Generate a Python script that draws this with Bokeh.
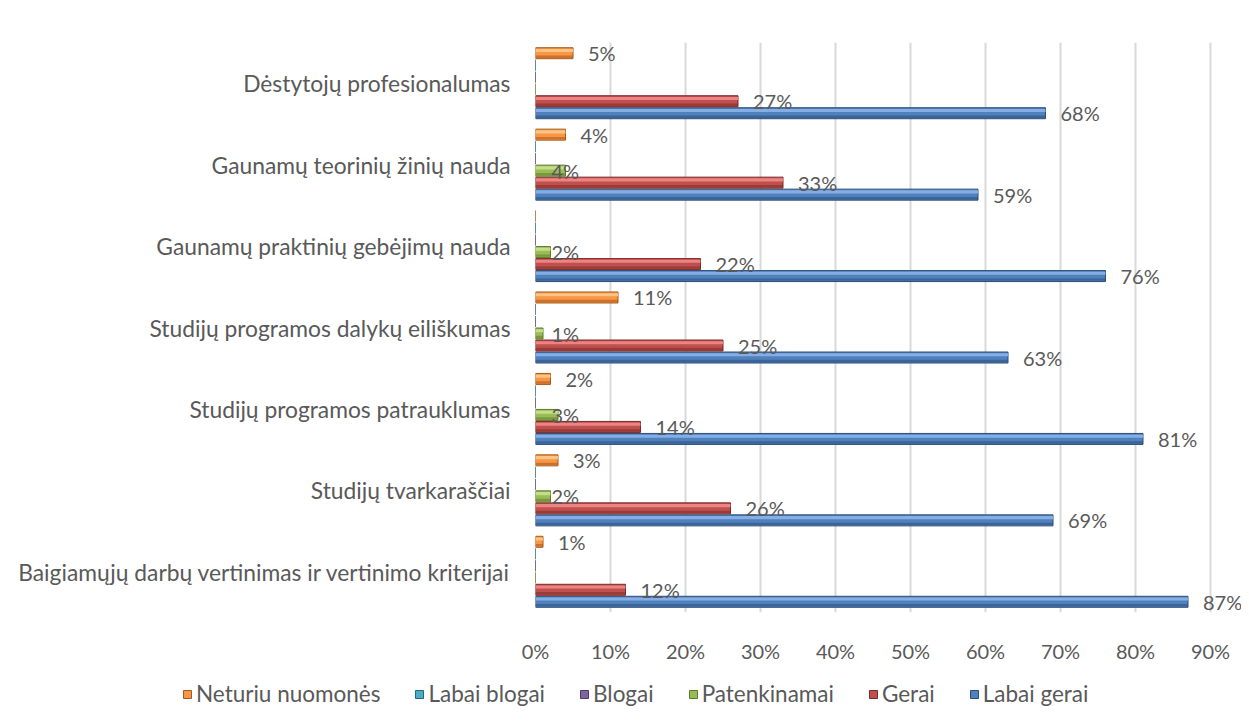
from bokeh.plotting import figure
from bokeh.layouts import column
from bokeh.models import (FactorRange, Range1d, ColumnDataSource, Legend, LegendItem,
                          FixedTicker, PrintfTickFormatter)
from bokeh.transform import dodge
from bokeh.core.properties import value
from bokeh.embed import file_html
from bokeh.resources import INLINE

# ---- data (categories listed top to bottom as in the picture) ----
categories = [
    "Dėstytojų profesionalumas",
    "Gaunamų teorinių žinių nauda",
    "Gaunamų praktinių gebėjimų nauda",
    "Studijų programos dalykų eiliškumas",
    "Studijų programos patrauklumas",
    "Studijų tvarkaraščiai",
    "Baigiamųjų darbų vertinimas ir vertinimo kriterijai",
]
labai_gerai = [68, 59, 76, 63, 81, 69, 87]
gerai = [27, 33, 22, 25, 14, 26, 12]
patenkinamai = [0, 4, 2, 1, 3, 2, 0]
blogai = [0, 0, 0, 0, 0, 0, 0]
labai_blogai = [0, 0, 0, 0, 0, 0, 0]
neturiu = [5, 4, 0, 11, 2, 3, 1]
series_names = ["Labai gerai", "Gerai", "Patenkinamai", "Blogai", "Labai blogai", "Neturiu nuomonės"]
x_ticks = [0, 10, 20, 30, 40, 50, 60, 70, 80, 90]

series_values = [labai_gerai, gerai, patenkinamai, blogai, labai_blogai, neturiu]
colors = [
    ("#4f81bd", "#8db3e8", "#2c4d7a"),
    ("#c0504d", "#ef8a88", "#7a2a28"),
    ("#9bbb59", "#c8e28e", "#5c7a26"),
    ("#8064a2", "#b29bd0", "#4d3a66"),
    ("#4bacc6", "#8fd6ea", "#23697d"),
    ("#f79646", "#fcc88a", "#a8581a"),
]

FONT = "Lato"
TXT = "#595959"

factors = list(reversed(categories))

W, H = 1241, 665
LEFT, TOP, BOTTOM = 535, 42, 53
px_per_unit = 7.5
x_end = (W - LEFT) / px_per_unit

p = figure(width=W, height=H, output_backend="svg", toolbar_location=None,
           y_range=FactorRange(*factors, range_padding=0), x_range=Range1d(0, x_end),
           min_border_left=LEFT, min_border_right=0, min_border_top=TOP, min_border_bottom=BOTTOM)
p.outline_line_color = None
p.background_fill_color = "white"
p.border_fill_color = "white"

step = 0.1474
bar_h = 0.135
for k, (name, vals, (mid, light, dark)) in enumerate(zip(series_names, series_values, colors)):
    off = -(2.5 - k) * step
    src = ColumnDataSource(dict(cat=categories, v=vals,
                                lab=[f"{v}%" if v > 0 else "" for v in vals]))
    yb = dodge("cat", off, range=p.y_range)
    p.hbar(y=yb, right="v", left=0, height=bar_h, source=src,
           fill_color=mid, line_color=dark, line_width=1)
    p.hbar(y=dodge("cat", off + bar_h * 0.25, range=p.y_range), right="v", left=0,
           height=bar_h * 0.28, source=src, fill_color=light, line_color=None, fill_alpha=0.9)
    p.hbar(y=dodge("cat", off - bar_h * 0.32, range=p.y_range), right="v", left=0,
           height=bar_h * 0.22, source=src, fill_color=dark, line_color=None, fill_alpha=0.55)
    xs = 0 if name == "Patenkinamai" else "v"
    xo = 16 if name == "Patenkinamai" else 15
    p.text(x=xs, y=yb, text="lab", source=src, x_offset=xo, text_baseline="middle",
           text_align="left", text_font=value(FONT), text_font_size="20px", text_color=TXT)

p.xaxis.ticker = FixedTicker(ticks=x_ticks)
p.xaxis.formatter = PrintfTickFormatter(format="%d%%")
p.xaxis.axis_line_color = None
p.xaxis.major_tick_line_color = None
p.xaxis.minor_tick_line_color = None
p.xaxis.major_label_standoff = 20
p.xaxis.major_label_text_font = FONT
p.xaxis.major_label_text_font_size = "20px"
p.xaxis.major_label_text_color = TXT

p.yaxis.axis_line_color = None
p.yaxis.major_tick_line_color = None
p.yaxis.minor_tick_line_color = None
p.yaxis.major_label_standoff = 19
p.yaxis.major_label_text_font = FONT
p.yaxis.major_label_text_font_size = "22.8px"
p.yaxis.major_label_text_color = TXT

p.xgrid.grid_line_color = "#d9d9d9"
p.xgrid.grid_line_width = 2
p.ygrid.grid_line_color = None

# ---- legend strip underneath ----
LH = 54
q = figure(width=W, height=LH, output_backend="svg", toolbar_location=None,
           x_range=Range1d(0, 1), y_range=Range1d(0, 1),
           x_axis_location=None, y_axis_location=None,
           min_border_left=0, min_border_right=0, min_border_top=0, min_border_bottom=0)
q.frame_align = False
q.outline_line_color = None
q.xgrid.visible = False
q.ygrid.visible = False
legend_items = {}
for name, (mid, light, dark) in zip(series_names, colors):
    legend_items[name] = q.hbar(y=[-1], right=[0], left=[0], height=0.1,
                                fill_color=mid, line_color=dark, line_width=1)
legend = Legend(items=[LegendItem(label=n, renderers=[legend_items[n]]) for n in reversed(series_names)],
                orientation="horizontal", location=(182, 12),
                label_text_font=FONT, label_text_font_size="22.5px", label_text_color=TXT,
                glyph_width=10, glyph_height=10, label_standoff=4, spacing=34,
                padding=0, margin=0, border_line_color=None, background_fill_alpha=0)
q.add_layout(legend, "center")

layout = column(p, q, spacing=0)
open("out.html", "w").write(file_html(layout, INLINE))
